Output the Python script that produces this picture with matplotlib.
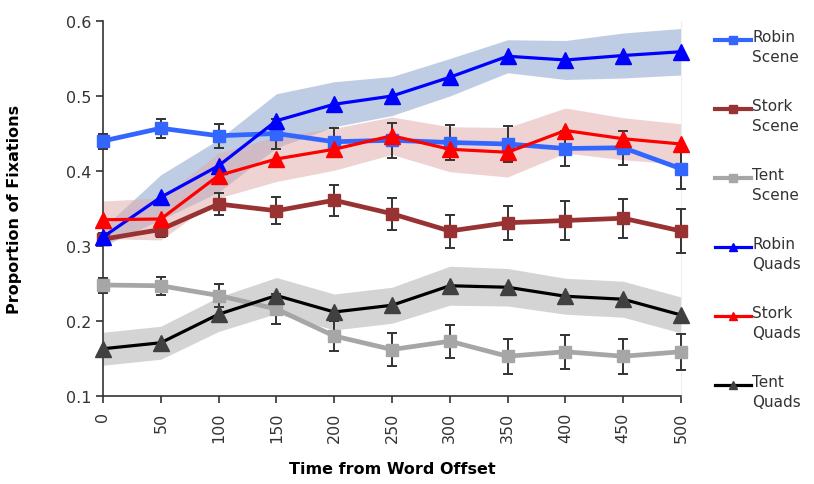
import numpy as np
import matplotlib
matplotlib.use('Agg')
import matplotlib.pyplot as plt
from matplotlib.lines import Line2D

# data
times = [0, 50, 100, 150, 200, 250, 300, 350, 400, 450, 500]

robin_scene = [0.440, 0.457, 0.447, 0.450, 0.439, 0.441, 0.438, 0.436, 0.430, 0.431, 0.403]
robin_scene_err = [0.010, 0.013, 0.016, 0.020, 0.019, 0.023, 0.023, 0.024, 0.023, 0.023, 0.027]
stork_scene = [0.309, 0.322, 0.356, 0.347, 0.361, 0.343, 0.320, 0.331, 0.334, 0.337, 0.320]
stork_scene_err = [0.008, 0.010, 0.015, 0.018, 0.021, 0.021, 0.022, 0.023, 0.026, 0.026, 0.029]
tent_scene = [0.248, 0.247, 0.234, 0.216, 0.180, 0.162, 0.173, 0.153, 0.159, 0.153, 0.159]
tent_scene_err = [0.010, 0.012, 0.015, 0.020, 0.020, 0.022, 0.022, 0.023, 0.023, 0.023, 0.024]

robin_quads = [0.312, 0.365, 0.407, 0.467, 0.489, 0.500, 0.525, 0.553, 0.548, 0.554, 0.559]
robin_quads_ci = [0.012, 0.030, 0.035, 0.036, 0.030, 0.026, 0.025, 0.022, 0.026, 0.030, 0.031]
stork_quads = [0.335, 0.336, 0.394, 0.416, 0.429, 0.447, 0.429, 0.425, 0.454, 0.443, 0.436]
stork_quads_ci = [0.025, 0.028, 0.030, 0.030, 0.028, 0.025, 0.030, 0.033, 0.030, 0.028, 0.027]
tent_quads = [0.163, 0.171, 0.209, 0.234, 0.212, 0.221, 0.247, 0.245, 0.233, 0.229, 0.208]
tent_quads_ci = [0.022, 0.022, 0.023, 0.024, 0.024, 0.024, 0.026, 0.025, 0.024, 0.024, 0.024]

legend_names = ['Robin\nScene', 'Stork\nScene', 'Tent\nScene',
                'Robin\nQuads', 'Stork\nQuads', 'Tent\nQuads']

plt.rcParams['font.family'] = ['DejaVu Sans']

fig = plt.figure(figsize=(8.14, 4.85), dpi=100)
ax = fig.add_axes([103 / 814, 1 - 397 / 485, 578 / 814, 375 / 485])

t = np.array(times)

# confidence bands for the quads
ax.fill_between(t, np.array(robin_quads) - robin_quads_ci, np.array(robin_quads) + robin_quads_ci,
                color='#7f9cc8', alpha=0.5, lw=0, zorder=1)
ax.fill_between(t, np.array(stork_quads) - stork_quads_ci, np.array(stork_quads) + stork_quads_ci,
                color='#e0a8a8', alpha=0.5, lw=0, zorder=1)
ax.fill_between(t, np.array(tent_quads) - tent_quads_ci, np.array(tent_quads) + tent_quads_ci,
                color='#aaaaaa', alpha=0.5, lw=0, zorder=1)

scene_styles = [
    (robin_scene, robin_scene_err, '#3366ff'),
    (stork_scene, stork_scene_err, '#993333'),
    (tent_scene, tent_scene_err, '#a6a6a6'),
]
for vals, err, col in scene_styles:
    ax.errorbar(t, vals, yerr=err, color=col, lw=3.4, marker='s', ms=9,
                ecolor='#333333', elinewidth=1.4, capsize=3.5, capthick=1.4,
                zorder=3, clip_on=False)

quad_styles = [
    (robin_quads, '#0000ff', '#0000ff'),
    (stork_quads, '#ff0000', '#ff0000'),
    (tent_quads, '#000000', '#404040'),
]
for vals, col, mcol in quad_styles:
    ax.plot(t, vals, color=col, lw=2.3, marker='^', ms=12, mfc=mcol, mec=mcol,
            zorder=4, clip_on=False)

ax.set_xlim(0, 500)
ax.set_ylim(0.1, 0.6)
ax.set_xticks(times)
ax.set_xticklabels([str(v) for v in times], rotation=90)
ax.set_yticks([0.1, 0.2, 0.3, 0.4, 0.5, 0.6])
ax.set_yticklabels(['0.1', '0.2', '0.3', '0.4', '0.5', '0.6'])
ax.tick_params(axis='both', direction='out', length=5, width=1.2, colors='#333333',
               labelsize=11.5, labelcolor='#333333')
ax.tick_params(axis='x', pad=6)
ax.spines['top'].set_visible(False)
ax.spines['right'].set_color('#eeeeee')
ax.spines['left'].set_color('#333333')
ax.spines['bottom'].set_color('#333333')
ax.spines['left'].set_linewidth(1.2)
ax.spines['bottom'].set_linewidth(1.2)

ax.set_ylabel('Proportion of Fixations', fontsize=11.5, fontweight='bold')
ax.yaxis.set_label_coords((22 - 103) / 578, 0.5)
fig.text(392 / 814, 1 - 470 / 485, 'Time from Word Offset', fontsize=11.5,
         fontweight='bold', ha='center', va='center')

# legend on the right, drawn by hand so the handle sits on the first line
legend_cols = [('#3366ff', 's', '#3366ff'), ('#993333', 's', '#993333'), ('#a6a6a6', 's', '#a6a6a6'),
               ('#0000ff', '^', '#0000ff'), ('#ff0000', '^', '#ff0000'), ('#000000', '^', '#404040')]
for i, (name, (col, mk, mcol)) in enumerate(zip(legend_names, legend_cols)):
    yp = 1 - (41 + i * 69) / 485
    lw = 3 if mk == 's' else 2.3
    fig.add_artist(Line2D([715 / 814, 751 / 814], [yp, yp], color=col, lw=lw,
                          transform=fig.transFigure))
    fig.add_artist(Line2D([733 / 814], [yp], marker=mk, ms=6, color=mcol, lw=0,
                          transform=fig.transFigure))
    fig.text(752 / 814, yp + 11 / 485, name, fontsize=11, color='#333333',
             va='top', ha='left', linespacing=1.45)

fig.savefig('out.png', dpi=100)
